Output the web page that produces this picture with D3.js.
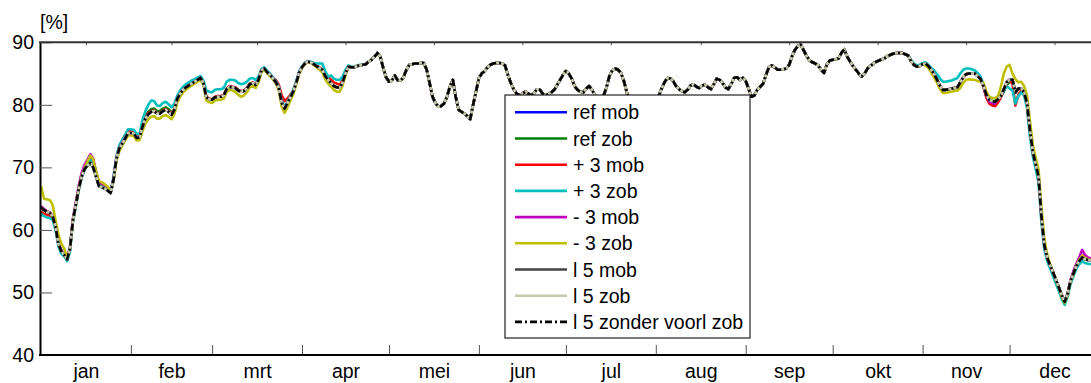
<!DOCTYPE html>
<html>
<head>
<meta charset="utf-8">
<script src="https://cdn.jsdelivr.net/npm/d3@7"></script>
<style>
  body { margin: 0; background: #fff; }
  svg { display: block; }
  text { font-family: "Liberation Sans", Arial, Helvetica, sans-serif; }
</style>
</head>
<body>
<svg id="chart" width="1091" height="383"></svg>
<script>
// ---- axis data ----
const monthLabels = ["jan", "feb", "mrt", "apr", "mei", "jun", "jul", "aug", "sep", "okt", "nov", "dec"];
const monthDays = [31, 28, 31, 30, 31, 30, 31, 31, 30, 31, 30, 31];
const yTicks = [40, 50, 60, 70, 80, 90];
const yUnit = "[%]";
const seriesNames = ["ref mob", "ref zob", "+ 3 mob", "+ 3 zob", "- 3 mob", "- 3 zob", "l 5 mob", "l 5 zob", "l 5 zonder voorl zob"];

// ---- daily values, day 0 = 1 january ----
// days 111..299: all scenarios coincide
const midYear = [
  86.4,86.5,86.9,87.2,87.7,88.3,87.7,85.9,84.4,83.7,
  83.9,84.7,83.9,83.9,84.4,85.6,86.4,86.5,86.6,86.6,
  86.7,86.7,85.6,83.5,81.3,80.3,79.7,79.8,80.2,81.3,
  82.9,84.0,81.3,79.2,78.9,78.6,78.2,77.7,80.0,82.1,
  84.3,85.0,85.4,86.0,86.4,86.6,86.7,86.7,86.6,86.3,
  84.8,83.5,82.5,81.8,81.5,81.8,82.1,81.8,81.5,81.9,
  82.5,82.4,81.8,81.5,81.7,82.0,82.4,83.2,84.0,84.8,
  85.4,85.0,84.2,83.0,82.4,82.1,82.0,82.6,83.0,82.4,
  81.6,80.9,80.5,81.5,82.8,84.6,85.5,85.8,85.6,85.1,
  83.8,82.0,80.6,79.6,79.4,79.8,80.2,80.7,81.0,80.8,
  80.5,80.6,81.4,82.6,83.6,84.3,84.2,83.8,83.0,82.5,
  82.2,82.0,82.4,83.1,83.3,82.9,82.7,83.1,83.2,82.8,
  82.5,83.3,84.2,84.0,83.5,82.8,82.5,83.3,84.3,84.4,
  84.0,84.3,83.8,82.6,81.3,81.5,82.4,82.9,83.4,84.8,
  86.0,86.3,86.0,85.6,85.6,85.7,85.8,86.4,87.8,88.8,
  89.4,89.6,88.7,87.8,87.1,86.8,86.6,86.3,85.6,85.1,
  86.5,87.1,87.2,87.3,87.4,88.3,88.9,87.7,86.9,86.2,
  85.6,85.0,84.5,85.0,85.8,86.2,86.6,86.9,87.1,87.3,
  87.5,87.8,88.0,88.2,88.3,88.3,88.3,88.1,87.9
];

// days 0..110
const refMobEarly = [
  63.6,63.2,62.9,62.7,62.2,60.5,57.8,56.6,56.0,55.3,
  57.0,61.5,64.0,66.5,68.5,69.7,70.3,70.7,70.0,68.5,
  67.0,66.8,66.6,66.3,65.9,68.0,71.4,73.0,73.8,74.6,
  75.5,75.5,75.4,74.7,74.8,76.5,77.8,78.5,79.2,79.3,
  78.9,78.6,79.0,79.2,78.9,78.4,79.2,81.0,81.8,82.4,
  82.8,83.1,83.4,83.7,84.0,84.3,83.5,81.2,80.9,80.8,
  81.2,81.3,81.3,81.5,82.5,82.9,82.8,82.7,82.3,82.1,
  82.2,82.6,83.3,83.5,83.2,84.0,85.5,85.8,85.2,84.8,
  84.2,83.6,82.7,80.3,79.4,80.3,81.2,82.1,83.5,85.1,
  86.0,86.6,86.9,86.8,86.5,86.2,85.9,85.6,84.6,84.0,
  83.5,83.0,82.8,82.7,83.6,85.0,86.1,86.0,86.0,86.2,86.3
];
const refZobEarly = [
  63.6,63.2,62.9,62.7,62.2,60.5,57.8,56.6,56.0,55.3,
  57.0,61.5,64.0,66.5,68.5,69.7,70.3,70.7,70.0,68.5,
  67.0,66.8,66.6,66.3,65.9,68.0,71.4,73.0,73.8,74.6,
  75.5,75.5,75.4,74.7,74.8,76.5,78.2,78.9,79.3,79.4,
  79.0,79.0,79.4,79.6,79.3,78.8,79.2,81.0,81.8,82.4,
  82.8,83.1,83.4,83.7,84.0,84.3,83.5,81.2,80.9,80.8,
  81.2,81.3,81.3,81.5,82.5,82.9,82.8,82.7,82.3,82.1,
  82.2,82.6,83.3,83.5,83.2,84.0,85.5,85.8,85.2,84.8,
  84.2,83.6,82.7,80.3,79.4,80.3,81.2,82.1,83.5,85.1,
  86.0,86.6,86.9,86.8,86.5,86.2,85.9,85.6,84.6,84.0,
  83.5,83.0,82.8,82.7,83.6,85.0,86.1,86.0,86.0,86.2,86.3
];
const plus3MobEarly = [
  62.9,62.6,62.4,62.3,62.0,60.4,57.8,56.6,56.0,55.3,
  57.0,61.5,64.0,66.6,68.7,70.0,70.9,71.6,71.0,69.2,
  67.4,67.0,66.7,66.4,65.9,68.1,71.5,73.3,74.3,75.1,
  75.9,75.7,75.5,74.9,75.0,76.7,78.0,78.7,79.0,79.1,
  78.7,78.7,79.1,79.3,79.0,78.5,79.3,81.1,81.9,82.5,
  82.9,83.2,83.5,83.8,84.1,84.4,83.6,81.3,81.0,80.9,
  81.3,81.4,81.4,81.6,82.6,83.0,82.9,82.8,82.4,82.2,
  82.3,82.7,83.4,83.6,83.3,84.1,85.6,85.9,85.3,84.9,
  84.3,84.0,83.2,81.5,80.6,81.0,81.6,82.3,83.6,85.2,
  86.1,86.7,86.9,86.8,86.5,86.2,86.0,85.7,85.0,84.5,
  84.0,83.6,83.4,83.2,83.9,85.1,86.1,86.0,86.0,86.2,86.3
];
const plus3ZobEarly = [
  62.6,62.2,62.0,61.9,61.6,60.0,57.4,56.2,55.8,55.0,
  56.5,61.2,63.8,66.3,68.3,69.6,70.5,71.2,70.6,68.9,
  67.2,66.9,66.7,66.4,66.1,68.5,71.8,73.5,74.4,75.2,
  76.1,76.1,76.0,75.3,75.4,77.6,79.0,80.0,80.7,80.6,
  79.9,79.8,80.3,80.5,80.1,79.6,80.2,81.5,82.3,82.9,
  83.3,83.6,83.9,84.1,84.4,84.6,83.9,82.3,82.1,82.0,
  82.4,82.5,82.5,82.7,83.7,84.0,84.0,83.9,83.5,83.3,
  83.4,83.7,84.2,84.3,84.0,84.5,85.7,86.0,85.4,85.0,
  84.4,83.8,82.9,80.6,79.7,80.5,81.4,82.4,83.8,85.3,
  86.2,86.7,87.0,86.9,86.7,86.6,86.6,86.6,85.4,84.5,
  84.7,84.2,84.0,84.0,84.5,85.6,86.3,86.1,86.1,86.3,86.4
];
const minus3MobEarly = [
  63.8,63.4,63.0,62.8,62.3,60.6,57.9,56.8,56.2,55.5,
  57.2,61.8,64.4,67.0,69.1,70.4,71.2,72.1,71.4,69.2,
  67.6,67.4,67.2,66.8,66.1,68.2,71.5,73.1,73.9,74.7,
  75.5,75.5,75.4,74.7,74.8,76.5,77.8,78.5,78.9,79.0,
  78.6,78.6,79.0,79.2,78.9,78.4,79.2,81.0,81.8,82.4,
  82.8,83.1,83.4,83.7,84.0,84.3,83.5,81.2,80.9,80.8,
  81.2,81.3,81.3,81.5,82.5,82.9,82.8,82.7,82.3,82.1,
  82.2,82.6,83.3,83.5,83.2,84.0,85.5,85.8,85.2,84.8,
  84.2,83.6,82.7,80.3,79.4,80.3,81.2,82.1,83.5,85.1,
  86.0,86.6,86.9,86.8,86.5,86.2,85.9,85.6,84.6,84.0,
  83.5,83.0,82.8,82.7,83.6,85.0,86.1,86.0,86.0,86.2,86.3
];
const minus3ZobEarly = [
  67.0,65.0,64.9,64.8,64.0,61.6,59.3,57.8,57.0,55.6,
  57.0,61.3,63.9,66.5,68.6,69.9,70.9,71.9,71.3,69.3,
  67.8,67.6,67.3,66.9,66.1,67.8,71.0,72.6,73.5,74.3,
  75.1,75.1,75.0,74.3,74.4,75.8,77.0,77.7,78.1,78.2,
  77.8,77.8,78.2,78.4,78.1,77.7,78.5,80.4,81.3,82.0,
  82.4,82.8,83.1,83.4,83.7,84.0,83.2,80.7,80.4,80.3,
  80.7,80.8,80.8,81.0,82.0,82.4,82.3,82.1,81.6,81.3,
  81.5,82.0,82.8,83.0,82.7,83.6,85.2,85.6,85.0,84.6,
  84.0,83.4,82.3,79.7,78.7,79.6,80.7,81.7,83.2,84.9,
  85.9,86.5,86.8,86.7,86.4,86.0,85.6,85.2,84.1,83.4,
  82.9,82.4,82.1,82.1,83.1,84.7,86.0,86.0,86.0,86.2,86.3
];
const l5Early = [
  63.6,63.2,62.9,62.7,62.2,60.5,57.8,56.6,56.0,55.3,
  57.0,61.5,64.0,66.5,68.5,69.7,70.3,70.7,70.0,68.5,
  67.0,66.8,66.6,66.3,65.9,68.0,71.4,73.0,73.8,74.6,
  75.5,75.5,75.4,74.7,74.8,76.5,77.8,78.5,78.9,79.0,
  78.6,78.6,79.0,79.2,78.9,78.4,79.2,81.0,81.8,82.4,
  82.8,83.1,83.4,83.7,84.0,84.3,83.5,81.2,80.9,80.8,
  81.2,81.3,81.3,81.5,82.5,82.9,82.8,82.7,82.3,82.1,
  82.2,82.6,83.3,83.5,83.2,84.0,85.5,85.8,85.2,84.8,
  84.2,83.6,82.7,80.3,79.4,80.3,81.2,82.1,83.5,85.1,
  86.0,86.6,86.9,86.8,86.5,86.2,85.9,85.6,84.6,84.0,
  83.5,83.0,82.8,82.7,83.6,85.0,86.1,86.0,86.0,86.2,86.3
];

// days 300..362
const refMobLate = [
  87.0,86.4,86.1,86.2,86.5,86.6,86.2,85.6,84.9,84.0,
  83.0,82.4,82.4,82.5,82.6,82.7,82.8,83.6,84.4,84.9,
  85.0,85.0,85.0,84.6,84.1,83.0,81.2,80.4,80.2,80.1,
  80.9,81.4,82.5,83.6,84.0,84.0,82.0,82.6,82.6,82.0,
  80.3,76.0,72.5,70.5,68.5,62.0,57.5,55.5,54.3,53.2,
  52.0,50.8,49.5,48.5,49.8,51.8,53.0,54.2,55.0,55.6,
  55.3,55.2,55.1
];
const refZobLate = [
  87.0,86.4,86.1,86.2,86.5,86.6,86.2,85.6,84.9,84.0,
  83.0,82.4,82.4,82.5,82.6,82.7,82.8,83.6,84.4,84.9,
  85.0,85.0,85.0,84.6,84.1,83.0,81.6,80.8,80.6,80.5,
  80.9,81.4,82.1,83.2,83.6,84.0,82.0,82.6,82.6,82.0,
  80.3,76.0,72.5,70.5,68.5,62.0,57.5,55.5,54.3,53.2,
  52.0,50.8,49.5,48.5,49.8,51.8,53.0,54.2,55.0,55.6,
  55.3,55.2,55.1
];
const plus3MobLate = [
  87.0,86.4,86.1,86.2,86.5,86.6,86.2,85.6,84.9,84.0,
  83.0,82.4,82.4,82.5,82.6,82.7,82.8,83.6,84.4,84.9,
  85.0,85.0,85.0,84.6,84.1,82.8,81.2,80.2,79.9,79.8,
  80.4,81.2,82.4,83.5,83.9,83.4,79.9,81.6,82.3,81.8,
  80.0,75.8,72.3,70.3,68.3,61.8,57.4,55.4,54.3,53.2,
  52.0,50.8,49.5,48.5,49.8,51.9,53.2,54.5,55.4,55.9,
  55.6,55.4,55.3
];
const plus3ZobLate = [
  87.2,86.6,86.3,86.4,86.7,86.8,86.4,85.9,85.5,84.9,
  84.2,83.7,83.7,83.8,83.9,84.1,84.3,85.0,85.6,85.8,
  85.8,85.7,85.5,85.1,84.5,83.3,81.7,80.9,80.6,80.6,
  81.0,81.4,82.3,83.0,82.6,82.3,80.2,81.4,82.0,81.5,
  79.5,75.0,71.8,69.8,67.5,61.0,56.8,55.0,53.8,52.6,
  51.4,50.2,48.9,48.0,49.3,51.3,52.6,53.8,54.5,55.0,
  54.7,54.6,54.5
];
const minus3MobLate = [
  87.0,86.4,86.1,86.2,86.5,86.6,86.2,85.6,84.9,84.0,
  83.0,82.4,82.4,82.5,82.6,82.7,82.8,83.6,84.4,84.9,
  85.0,85.0,85.0,84.6,84.1,83.0,81.6,80.5,80.3,80.2,
  80.9,81.4,82.5,83.6,84.0,84.0,82.0,82.6,82.6,82.0,
  80.3,76.0,72.5,70.5,68.5,62.0,57.5,55.5,54.3,53.2,
  52.0,50.8,49.5,48.5,49.8,51.9,53.4,54.6,55.6,56.8,
  56.0,55.6,55.4
];
const minus3ZobLate = [
  87.0,86.4,86.1,86.2,86.5,86.3,85.9,85.1,84.4,83.5,
  82.5,81.9,81.9,82.0,82.1,82.2,82.3,82.7,83.5,84.0,
  84.1,84.0,84.0,83.8,83.7,83.5,82.1,81.3,81.1,81.0,
  81.4,82.9,85.0,86.1,86.4,85.0,84.1,83.6,83.7,83.0,
  81.5,77.5,73.6,71.5,69.6,63.5,58.5,56.0,54.5,53.2,
  52.0,50.7,49.3,48.3,49.6,51.7,53.0,54.3,55.2,55.9,
  55.5,55.3,55.2
];
const l5Late = [
  87.0,86.4,86.1,86.2,86.5,86.6,86.2,85.6,84.9,84.0,
  83.0,82.4,82.4,82.5,82.6,82.7,82.8,83.6,84.4,84.9,
  85.0,85.0,85.0,84.6,84.1,83.0,81.6,80.8,80.6,80.5,
  80.9,81.4,82.5,83.6,84.0,84.0,82.0,82.6,82.6,82.0,
  80.3,76.0,72.5,70.5,68.5,62.0,57.5,55.5,54.3,53.2,
  52.0,50.8,49.5,48.5,49.8,51.8,53.0,54.2,55.0,55.6,
  55.3,55.2,55.1
];

const seriesValues = [
  [...refMobEarly, ...midYear, ...refMobLate],
  [...refZobEarly, ...midYear, ...refZobLate],
  [...plus3MobEarly, ...midYear, ...plus3MobLate],
  [...plus3ZobEarly, ...midYear, ...plus3ZobLate],
  [...minus3MobEarly, ...midYear, ...minus3MobLate],
  [...minus3ZobEarly, ...midYear, ...minus3ZobLate],
  [...l5Early, ...midYear, ...l5Late],
  [...l5Early, ...midYear, ...l5Late],
  [...l5Early, ...midYear, ...l5Late]
];

// ---- styling ----
const seriesColors = ["#0000ff", "#008000", "#ff0000", "#00bfbf", "#bf00bf", "#bfbf00", "#444444", "#c6c9ae", "#000000"];
const seriesDash = [null, null, null, null, null, null, null, null, "7,3,2,3"];
const fontSize = "19.5px";

const svg = d3.select("#chart");
const x = d3.scaleLinear().domain([0, 365]).range([41, 1099.5]);
const y = d3.scaleLinear().domain([40, 90]).range([355, 42.3]);

const monthStarts = [0, ...d3.cumsum(monthDays)];
const boundaries = monthStarts.slice(1, 12);
const mids = monthDays.map((n, i) => monthStarts[i] + n / 2);

// series lines
const line = d3.line()
  .x((v, i) => x(i))
  .y(v => y(v))
  .curve(d3.curveLinear);

svg.append("g").selectAll("path")
  .data(seriesValues)
  .join("path")
  .attr("d", line)
  .attr("fill", "none")
  .attr("stroke", (d, i) => seriesColors[i])
  .attr("stroke-width", 2.6)
  .attr("stroke-linejoin", "round")
  .attr("stroke-dasharray", (d, i) => seriesDash[i]);

// y axis with inward ticks
const yAxis = svg.append("g")
  .attr("transform", "translate(40,0)")
  .call(d3.axisLeft(y).tickValues(yTicks).tickSizeInner(-12).tickSizeOuter(0).tickPadding(6));
yAxis.select(".domain").attr("stroke", "#000").attr("stroke-width", 2);
yAxis.selectAll(".tick line").attr("stroke", "#555").attr("stroke-width", 1);
yAxis.selectAll(".tick text").attr("fill", "#000").style("font-size", fontSize)
  .style("font-family", '"Liberation Sans", Arial, sans-serif');

// month boundary ticks on the bottom edge
const bTicks = svg.append("g")
  .attr("transform", "translate(0,355)")
  .call(d3.axisTop(x).tickValues(boundaries).tickSize(10).tickFormat(""));
bTicks.select(".domain").remove();
bTicks.selectAll(".tick line").attr("stroke", "#555").attr("stroke-width", 1);

// month names at mid-month
const mAxis = svg.append("g")
  .attr("transform", "translate(0,355)")
  .call(d3.axisBottom(x).tickValues(mids).tickSize(0).tickPadding(9)
    .tickFormat((d, i) => monthLabels[i]));
mAxis.select(".domain").remove();
mAxis.selectAll(".tick text").attr("fill", "#000").style("font-size", fontSize)
  .style("font-family", '"Liberation Sans", Arial, sans-serif');

// short mid-month ticks along the top edge
const tTicks = svg.append("g")
  .attr("transform", "translate(0,42.3)")
  .call(d3.axisBottom(x).tickValues(mids).tickSize(3).tickFormat(""));
tTicks.select(".domain").remove();
tTicks.selectAll(".tick line").attr("stroke", "#555").attr("stroke-width", 1);

// frame lines
svg.append("line")
  .attr("x1", 39).attr("x2", x(365)).attr("y1", 355).attr("y2", 355)
  .attr("stroke", "#000").attr("stroke-width", 2);
svg.append("line")
  .attr("x1", 39).attr("x2", x(365)).attr("y1", 42.3).attr("y2", 42.3)
  .attr("stroke", "#333").attr("stroke-width", 2);

// unit label
svg.append("text")
  .attr("x", 40).attr("y", 29)
  .style("font-size", fontSize)
  .text(yUnit);

// legend
const legend = svg.append("g").attr("transform", "translate(505,95)");
legend.append("rect")
  .attr("width", 245).attr("height", 243)
  .attr("fill", "#fff").attr("stroke", "#222").attr("stroke-width", 1.2);
const rows = legend.selectAll("g.row")
  .data(seriesNames)
  .join("g")
  .attr("class", "row")
  .attr("transform", (d, i) => `translate(0,${17.3 + i * 26.2})`);
rows.append("line")
  .attr("x1", 10).attr("x2", 62)
  .attr("stroke", (d, i) => seriesColors[i])
  .attr("stroke-width", 2.6)
  .attr("stroke-dasharray", (d, i) => seriesDash[i]);
rows.append("text")
  .attr("x", 68).attr("dy", "0.36em")
  .style("font-size", fontSize)
  .text(d => d);
</script>
</body>
</html>
